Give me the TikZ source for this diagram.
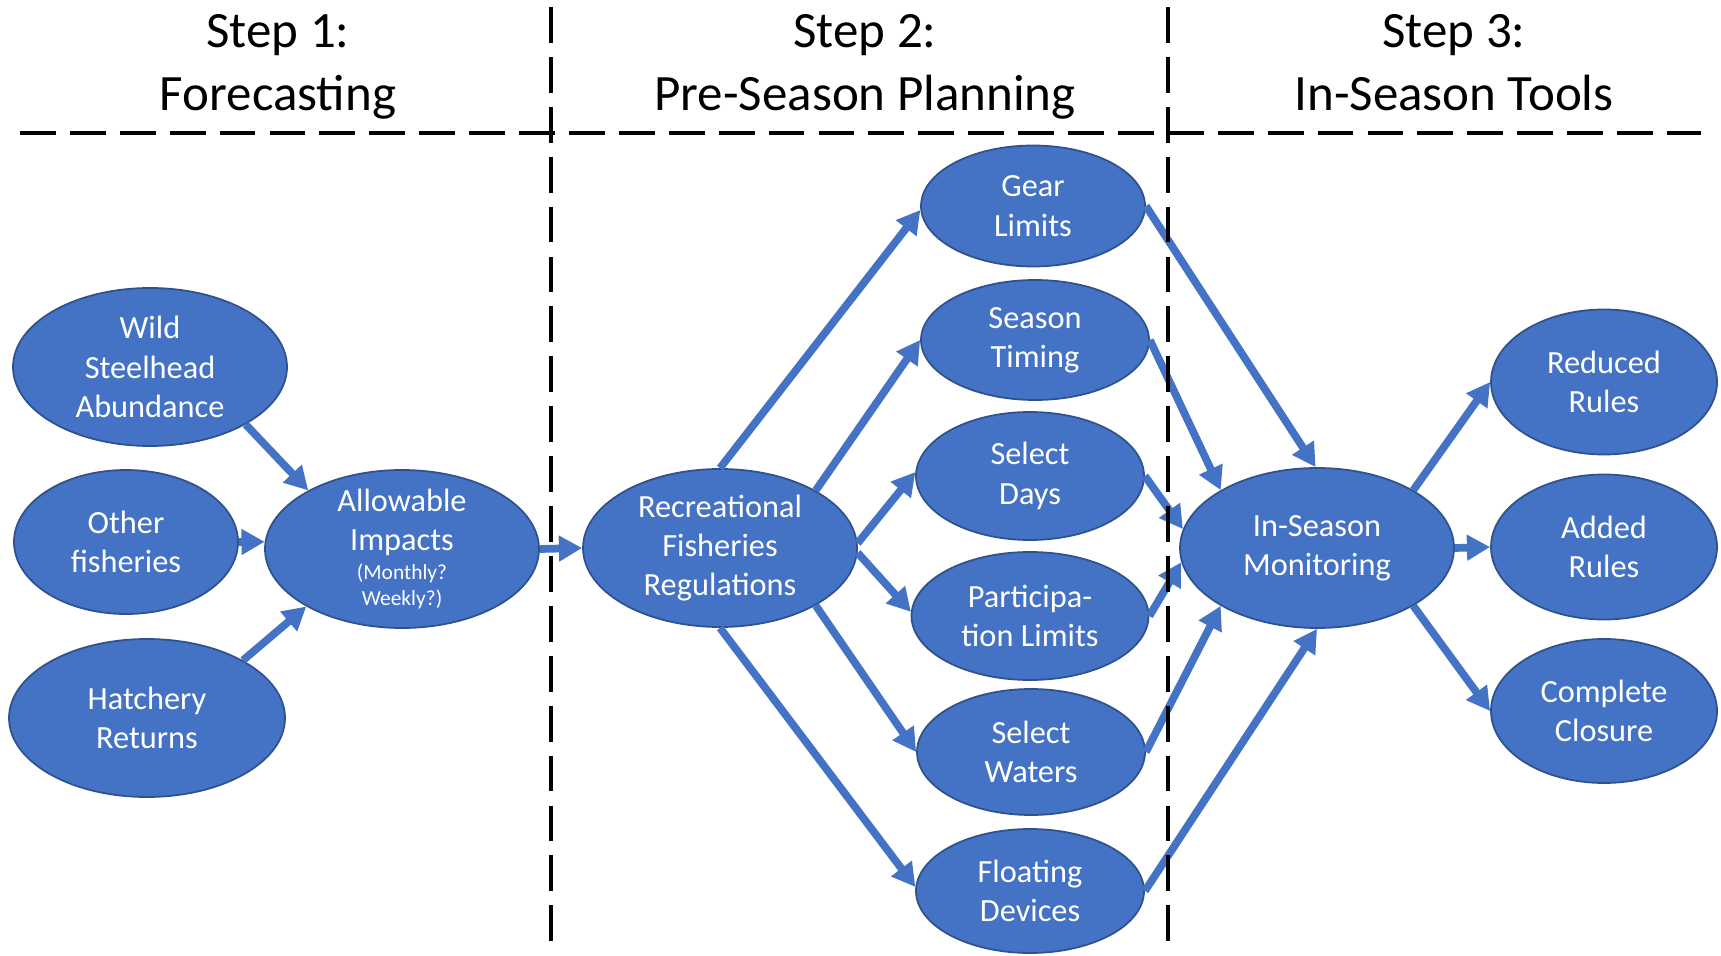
\documentclass[tikz,border=0pt]{standalone}
\usepackage{fontspec}
\setmainfont{Carlito}
\usetikzlibrary{shapes.geometric,arrows.meta}

\definecolor{ovalblue}{HTML}{4472C4}
\definecolor{ovalline}{HTML}{2F528F}

\newcommand{\smalltxt}{\fontsize{6.1}{7.5}\selectfont}

\begin{document}

\def\dA{5.51}
\def\dB{11.68}
\def\dH{8.22}
\def\dT{8.89}

\begin{tikzpicture}[
    >={Triangle[length=6.6pt,width=7pt]},
    oval/.style={shape=ellipse, fill=ovalblue, draw=ovalline, line width=0.5pt,
                 text=white, align=center, inner sep=0pt,
                 font=\fontsize{9.2}{11.2}\selectfont},
    flow/.style={->, draw=ovalblue, line width=2.2pt},
    divider/.style={draw=black, line width=1.2pt, dash pattern=on 10.2pt off 4pt},
    heading/.style={align=center, font=\fontsize{14.5}{17.9}\selectfont}
  ]
    \useasboundingbox (0,0) rectangle (17.21,9.55);

    %%   headings
    \node[heading] (H1) at ( 2.78,\dT) {\strut Step 1:\\\strut Forecasting};
    \node[heading] (H2) at ( 8.65,\dT) {\strut Step 2:\\\strut Pre-Season Planning};
    \node[heading] (H3) at (14.54,\dT) {\strut Step 3:\\\strut In-Season Tools};

    %%   step 1
    \node[oval, minimum width=2.74cm, minimum height=1.58cm] (wild)  at (1.50,5.88) {Wild\\Steelhead\\Abundance};
    \node[oval, minimum width=2.24cm, minimum height=1.44cm] (other) at (1.26,4.13) {Other\\fisheries};
    \node[oval, minimum width=2.76cm, minimum height=1.58cm] (hatch) at (1.47,2.37) {Hatchery\\Returns};
    \node[oval, minimum width=2.74cm, minimum height=1.58cm, inner sep=-4pt] (allow) at (4.02,4.06)
        {Allowable\\Impacts\\[-2.9pt]{\smalltxt (Monthly?}\\[-3.7pt]{\smalltxt Weekly?)}};

    %%   step 2
    \node[oval, minimum width=2.74cm, minimum height=1.58cm] (recr)   at ( 7.20,4.07) {Recreational\\Fisheries\\Regulations};
    \node[oval, minimum width=2.24cm, minimum height=1.21cm] (gear)   at (10.33,7.49) {Gear\\Limits};
    \node[oval, minimum width=2.28cm, minimum height=1.20cm] (season) at (10.35,6.15) {Season\\Timing};
    \node[oval, minimum width=2.28cm, minimum height=1.28cm] (days)   at (10.30,4.79) {Select\\Days};
    \node[oval, minimum width=2.37cm, minimum height=1.28cm] (partic) at (10.30,3.39) {Participa-\\tion Limits};
    \node[oval, minimum width=2.28cm, minimum height=1.26cm] (waters) at (10.31,2.03) {Select\\Waters};
    \node[oval, minimum width=2.28cm, minimum height=1.24cm] (float)  at (10.30,0.64) {Floating\\Devices};

    %%   step 3
    \node[oval, minimum width=2.74cm, minimum height=1.60cm] (monit)   at (13.17,4.07) {In-Season\\Monitoring};
    \node[oval, minimum width=2.26cm, minimum height=1.45cm] (reduced) at (16.04,5.73) {Reduced\\Rules};
    \node[oval, minimum width=2.26cm, minimum height=1.45cm] (added)   at (16.04,4.08) {Added\\Rules};
    \node[oval, minimum width=2.26cm, minimum height=1.44cm] (closure) at (16.04,2.44) {Complete\\Closure};

    %%   arrows
    \path (wild.-31)   edge[flow] (allow.148);
    \path (other.east) edge[flow] (allow.177);
    \path (hatch.31)   edge[flow] (allow.211);
    \path (allow.east) edge[flow] (recr.west);

    \path (recr.north) edge[flow] (gear.182);
    \path (recr.31)    edge[flow] (season.west);
    \path (recr.2)     edge[flow] (days.178);
    \path (recr.-2)    edge[flow] (partic.178);
    \path (recr.-31)   edge[flow] (waters.west);
    \path (recr.south) edge[flow] (float.178);

    \path (gear.east)   edge[flow] (monit.91);
    \path (season.east) edge[flow] (monit.149);
    \path (days.east)   edge[flow] (monit.172);
    \path (partic.east) edge[flow] (monit.186);
    \path (waters.east) edge[flow] (monit.211);
    \path (float.east)  edge[flow] (monit.south);

    \path (monit.31)   edge[flow] (reduced.west);
    \path (monit.east) edge[flow] (added.west);
    \path (monit.-31)  edge[flow] (closure.west);

    %%   dividers
    \draw[divider] (0.20,\dH) -- (17.01,\dH);
    \draw[divider] (\dA,9.48) -- (\dA,0.13);
    \draw[divider] (\dB,9.48) -- (\dB,0.13);

  \end{tikzpicture}
\end{document}
